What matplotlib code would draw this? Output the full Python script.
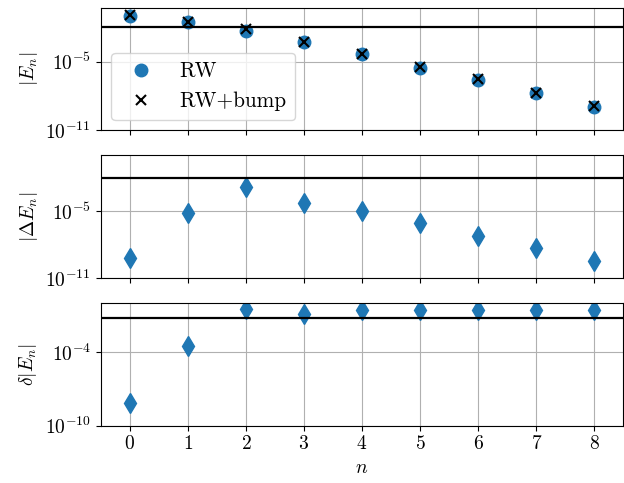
import matplotlib
matplotlib.use("Agg")
import matplotlib.pyplot as plt
from matplotlib.ticker import NullLocator

plt.rcParams.update({
    "font.family": "serif",
    "font.serif": ["cmr10", "DejaVu Serif"],
    "mathtext.fontset": "cm",
    "axes.formatter.use_mathtext": True,
    "font.size": 14,
})

n = [0, 1, 2, 3, 4, 5, 6, 7, 8]

# energies for the plain random walk and the bumped one
E_rw = [1.0e-1, 2.7e-2, 4.7e-3, 4.9e-4, 4.4e-5, 3.0e-6, 2.4e-7, 1.8e-8, 1.2e-9]
E_bump = [1.07e-1, 2.8e-2, 6.5e-3, 5.5e-4, 5.0e-5, 3.5e-6, 3.0e-7, 2.0e-8, 1.4e-9]

# absolute and relative differences
dE = [6.9e-10, 7.1e-6, 1.4e-3, 5.6e-5, 1.0e-5, 8.9e-7, 6.0e-8, 4.7e-9, 3.4e-10]
rel = [6.6e-9, 2.9e-4, 0.32, 0.12, 0.26, 0.28, 0.28, 0.28, 0.28]

tol_abs = 1e-2
tol_rel = 0.06

fig, axes = plt.subplots(3, 1, sharex=True, figsize=(6.24, 4.83), dpi=100)
fig.subplots_adjust(left=0.1614, right=0.9989, top=0.984, bottom=0.1186, hspace=0.203)

ax = axes[0]
ax.plot(n, E_rw, "o", color="C0", ms=9, label="RW")
ax.plot(n, E_bump, "x", color="k", ms=7, mew=1.5, label="RW+bump")
ax.axhline(tol_abs, color="k", lw=1.6)
ax.set_yscale("log")
ax.set_ylim(1e-11, 10 ** -0.3)
ax.set_yticks([1e-11, 1e-5])
ax.set_ylabel(r"$|E_n|$")
ax.legend(loc="lower left", fontsize=15.3)

ax = axes[1]
ax.plot(n, dE, "d", color="C0", ms=10)
ax.axhline(tol_abs, color="k", lw=1.6)
ax.set_yscale("log")
ax.set_ylim(1e-11, 1)
ax.set_yticks([1e-11, 1e-5])
ax.set_ylabel(r"$|\Delta E_n|$")

ax = axes[2]
ax.plot(n, rel, "d", color="C0", ms=10)
ax.axhline(tol_rel, color="k", lw=1.6)
ax.set_yscale("log")
ax.set_ylim(1e-10, 1)
ax.set_yticks([1e-10, 1e-4])
ax.set_ylabel(r"$\delta|E_n|$")
ax.set_xlabel(r"$n$")

for ax in axes:
    ax.yaxis.set_minor_locator(NullLocator())
    ax.set_xticks(n)
    ax.set_xlim(-0.5, 8.5)
    ax.grid(True)
    ax.set_axisbelow(True)

fig.savefig("out.png", dpi=100)
